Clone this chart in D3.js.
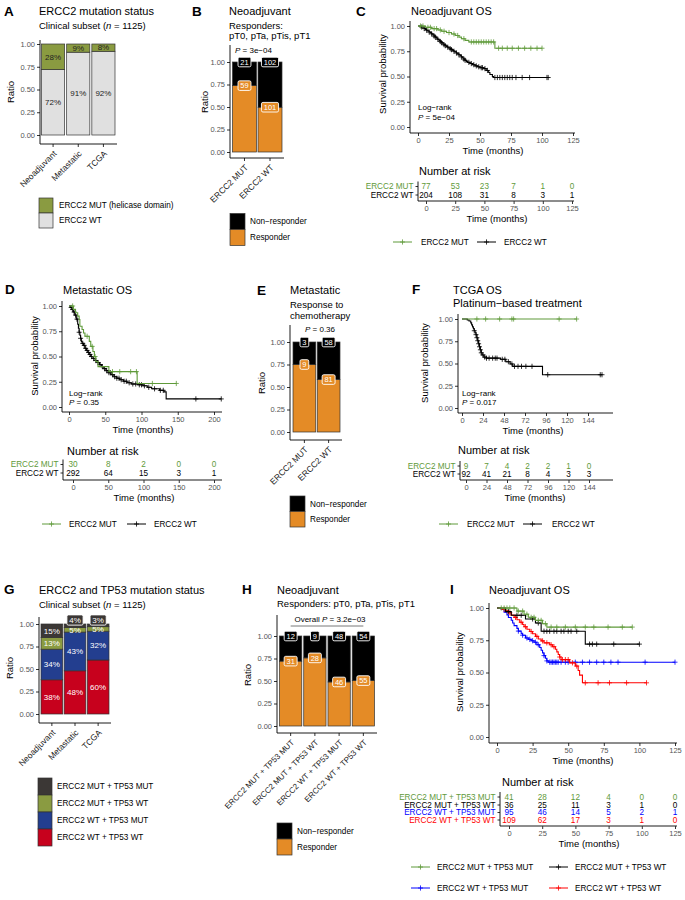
<!DOCTYPE html>
<html>
<head>
<meta charset="utf-8">
<script src="https://cdn.jsdelivr.net/npm/d3@7"></script>
<style>
body { margin: 0; background: #fff; }
</style>
</head>
<body>
<script>
// ---- data ----
var ratioTicks = [0, 0.25, 0.5, 0.75, 1];

// A
var aCats = ["Neoadjuvant", "Metastatic", "TCGA"];
var aMut = [0.28, 0.09, 0.08];
var aWt = [0.72, 0.91, 0.92];

// B
var bCats = ["ERCC2 MUT", "ERCC2 WT"];
var bResp = [59, 101];
var bNon = [21, 102];

// E
var eCats = ["ERCC2 MUT", "ERCC2 WT"];
var eResp = [9, 81];
var eNon = [3, 58];

// G
var gCats = ["Neoadjuvant", "Metastatic", "TCGA"];
var gGroups = ["ERCC2 MUT + TP53 MUT", "ERCC2 MUT + TP53 WT", "ERCC2 WT + TP53 MUT", "ERCC2 WT + TP53 WT"];
var gMutMut = [0.15, 0.04, 0.03];
var gMutWt = [0.13, 0.05, 0.05];
var gWtMut = [0.34, 0.43, 0.32];
var gWtWt = [0.38, 0.48, 0.60];

// H
var hCats = ["ERCC2 MUT + TP53 MUT", "ERCC2 MUT + TP53 WT", "ERCC2 WT + TP53 MUT", "ERCC2 WT + TP53 WT"];
var hResp = [31, 28, 46, 55];
var hNon = [12, 9, 48, 54];

// C  neoadjuvant OS  [time, survival from that time]
var cTicks = [0, 25, 50, 75, 100, 125];
var cMutSteps = [[0,1],[6,0.987],[11,0.974],[16,0.961],[19,0.948],[23,0.935],[27,0.921],[30,0.906],[33,0.89],[35,0.874],[38,0.858],[41,0.842],[62,0.78]];
var cMutCensor = [2,4,8,10,13,15,18,21,25,29,32,37,43,45,47,49,51,53,55,57,59,61,65,68,72,76,81,86,91,96,100];
var cWtSteps = [[0,1],[2,0.995],[3,0.99],[4,0.98],[5,0.975],[6,0.965],[7,0.958],[8,0.95],[9,0.94],[10,0.932],[11,0.922],[12,0.912],[13,0.9],[14,0.89],[15,0.878],[16,0.868],[17,0.856],[18,0.846],[19,0.835],[20,0.825],[21,0.815],[22,0.805],[23,0.797],[24,0.79],[25,0.782],[26,0.774],[27,0.766],[28,0.758],[29,0.75],[30,0.742],[31,0.733],[32,0.724],[33,0.715],[34,0.705],[35,0.694],[36,0.683],[37,0.672],[38,0.66],[39,0.65],[40,0.64],[42,0.628],[44,0.617],[46,0.605],[48,0.596],[50,0.587],[53,0.578],[55,0.56],[57,0.54],[58,0.52],[60,0.5],[61,0.49]];
var cWtCensor = [3,5,7,9,11,13,14,16,18,19,21,22,24,26,27,29,31,33,35,37,38,41,43,45,47,49,51,52,54,56,62,64,66,68,70,72,74,76,79,84,90,104,105];
var cRiskMut = [77, 53, 23, 7, 1, 0];
var cRiskWt = [204, 108, 31, 8, 3, 1];

// D  metastatic OS
var dTicks = [0, 50, 100, 150, 200];
var dMutSteps = [[0,1],[6,0.967],[9,0.933],[12,0.9],[14,0.867],[15,0.8],[18,0.767],[20,0.733],[22,0.7],[28,0.65],[30,0.6],[33,0.55],[35,0.5],[37,0.45],[40,0.4],[55,0.35],[94,0.233]];
var dMutCensor = [5,25,32,36,60,70,85,93,115,148];
var dWtSteps = [[0,1],[2,0.985],[4,0.965],[6,0.94],[8,0.91],[10,0.87],[12,0.82],[13,0.78],[14,0.74],[15,0.71],[16,0.68],[17,0.65],[18,0.63],[20,0.61],[22,0.58],[24,0.56],[26,0.54],[28,0.52],[30,0.5],[33,0.48],[36,0.46],[39,0.44],[42,0.42],[45,0.4],[48,0.38],[51,0.36],[54,0.34],[58,0.32],[62,0.3],[66,0.285],[70,0.27],[75,0.255],[80,0.24],[86,0.228],[95,0.22],[102,0.21],[108,0.195],[114,0.18],[125,0.165],[131,0.15],[134,0.08]];
var dWtCensor = [3,5,7,9,11,14,16,19,21,23,25,27,29,31,34,37,40,43,46,49,52,55,57,60,63,66,69,72,76,79,83,88,92,97,100,104,110,118,126,130,175,210];
var dRiskMut = [30, 8, 2, 0, 0];
var dRiskWt = [292, 64, 15, 3, 1];

// F  TCGA OS
var fTicks = [0, 24, 48, 72, 96, 120, 144];
var fMutSteps = [[0,1]];
var fMutCensor = [17,27,43,57,59,111,131];
var fWtSteps = [[0,1],[6,0.989],[8,0.978],[10,0.956],[11,0.934],[12,0.912],[13,0.89],[14,0.868],[15,0.846],[16,0.824],[17,0.79],[18,0.756],[19,0.722],[20,0.688],[21,0.654],[22,0.62],[23,0.596],[25,0.572],[28,0.56],[44,0.547],[50,0.52],[55,0.495],[58,0.468],[92,0.374]];
var fWtCensor = [14,16,17,18,19,20,21,22,24,26,28,31,35,38,40,46,49,53,57,60,64,68,73,80,98,158,160];
var fRiskMut = [9, 7, 4, 2, 2, 1, 0];
var fRiskWt = [92, 41, 21, 8, 4, 3, 3];

// I  neoadjuvant OS by ERCC2/TP53
var iTicks = [0, 25, 50, 75, 100, 125];
var iMutMutSteps = [[0,1],[14,0.976],[19,0.952],[22,0.928],[27,0.904],[32,0.878],[35,0.852]];
var iMutMutCensor = [3,5,7,9,12,15,18,21,24,26,29,31,34,38,42,48,55,62,68,78,88,95];
var iMutWtSteps = [[0,1],[6,0.972],[10,0.944],[20,0.915],[27,0.884],[31,0.82],[62,0.72]];
var iMutWtCensor = [8,14,17,25,29,33,35,37,40,42,45,47,50,52,56,65,67,70,82,100];
var iWtMutSteps = [[0,1],[3,0.989],[5,0.968],[7,0.947],[8,0.926],[10,0.905],[11,0.884],[12,0.863],[14,0.842],[15,0.821],[17,0.8],[18,0.789],[20,0.768],[22,0.757],[24,0.746],[26,0.735],[28,0.715],[30,0.694],[31,0.673],[32,0.652],[33,0.631],[34,0.61],[35,0.59],[36,0.58]];
var iWtMutCensor = [15,18,21,23,25,27,29,33,35,37,38,39,40,41,42,43,45,48,50,55,60,65,70,75,80,85,104,125];
var iWtWtSteps = [[0,1],[3,0.99],[6,0.98],[8,0.963],[10,0.945],[12,0.927],[14,0.909],[16,0.89],[18,0.872],[19,0.855],[21,0.835],[23,0.818],[25,0.8],[27,0.78],[29,0.76],[31,0.745],[33,0.73],[37,0.715],[39,0.7],[41,0.68],[42,0.66],[43,0.64],[44,0.62],[45,0.6],[51,0.575],[55,0.55],[57,0.515],[58,0.48],[60,0.42]];
var iWtWtCensor = [5,9,13,17,20,24,28,32,35,38,40,44,46,48,50,53,56,62,71,79,91,105];
var iRiskMutMut = [41, 28, 12, 4, 0, 0];
var iRiskMutWt = [36, 25, 11, 3, 1, 0];
var iRiskWtMut = [95, 46, 14, 5, 2, 1];
var iRiskWtWt = [109, 62, 17, 3, 1, 0];

// ---- styles ----
var FONT = '"Liberation Sans", Arial, Helvetica, sans-serif';
var barGreen = "#8a9b41", barGrey = "#e0e0e0", orange = "#e48b26", dark = "#3b3735", navy = "#233e8f", red = "#c7011d";
var kmGreen = "#5f9a3a";

var svg = d3.select("body").append("svg").attr("width", 685).attr("height", 900);
svg.append("rect").attr("width", 685).attr("height", 900).attr("fill", "#fff");

function T(x, y, s, size, o) {
    o = o || {};
    var t = svg.append("text").attr("x", x).attr("y", y).attr("dy", "0.35em")
        .attr("font-family", FONT).attr("font-size", size)
        .attr("fill", o.fill || "#000").attr("text-anchor", o.anchor || "start").text(s);
    if (o.bold) t.attr("font-weight", "bold");
    if (o.rot) t.attr("transform", "rotate(-90," + x + "," + y + ")");
    return t;
}

function PT(x, y, pre, rest, size, anchor) {
    var t = T(x, y, "", size, {anchor: anchor});
    if (pre) t.append("tspan").text(pre);
    t.append("tspan").attr("font-style", "italic").text("P");
    t.append("tspan").text(rest);
    return t;
}

function styleAxis(g) {
    g.attr("font-family", FONT).attr("font-size", 7.5);
    g.select(".domain").remove();
    g.selectAll(".tick line").attr("stroke", "#333");
    g.selectAll(".tick text").attr("fill", "#555");
}

function axisLines(ax, top, ay, right) {
    svg.append("path").attr("d", "M" + ax + "," + top + "V" + ay + "H" + right)
        .attr("fill", "none").attr("stroke", "#000").attr("stroke-width", 0.9);
}

function boxLabel(x, y, s, fill, size) {
    var g = svg.append("g");
    var t = g.append("text").attr("x", x).attr("y", y).attr("dy", "0.35em").attr("text-anchor", "middle")
        .attr("font-family", FONT).attr("font-size", size).attr("fill", "#fff").text(s);
    var w = t.node().getComputedTextLength();
    g.insert("rect", "text").attr("x", x - w / 2 - 2.3).attr("y", y - size * 0.64)
        .attr("width", w + 4.6).attr("height", size * 1.28).attr("rx", 1.5)
        .attr("fill", fill).attr("stroke", "#fff").attr("stroke-width", 0.9);
}

function ratioFrame(o) {
    var y = d3.scaleLinear().domain([0, 1]).range([o.y0, o.y1]);
    var x = d3.scaleBand().domain(o.cats).range([o.bl, o.br]).paddingInner(o.pad).paddingOuter(0);
    var ya = svg.append("g").attr("transform", "translate(" + o.ax + ",0)")
        .call(d3.axisLeft(y).tickValues(ratioTicks).tickFormat(d3.format(".2f")).tickSize(3).tickPadding(2));
    styleAxis(ya);
    var xa = svg.append("g").attr("transform", "translate(0," + o.ay + ")")
        .call(d3.axisBottom(x).tickSize(3));
    styleAxis(xa);
    xa.selectAll(".tick text").attr("x", 0).attr("y", 0).attr("dy", "0.35em")
        .attr("transform", "translate(2,8) rotate(-45)").attr("text-anchor", "end")
        .attr("fill", "#222").attr("font-size", o.xfs || 8.5);
    axisLines(o.ax, o.top, o.ay, o.right);
    T(o.rx, o.ry, "Ratio", 9.5, {anchor: "middle", rot: true});
    return {x: x, y: y};
}

function drawStack(f, rows, keys, colors) {
    var series = d3.stack().keys(keys)(rows);
    series.forEach(function (s, k) {
        svg.append("g").selectAll("rect").data(s).enter().append("rect")
            .attr("x", function (d) { return f.x(d.data.cat); })
            .attr("width", f.x.bandwidth())
            .attr("y", function (d) { return f.y(d[1]); })
            .attr("height", function (d) { return f.y(d[0]) - f.y(d[1]); })
            .attr("fill", colors[k]).attr("stroke", "#333").attr("stroke-width", 0.7);
    });
    return series;
}

function countRows(cats, resp, non) {
    return cats.map(function (c, i) {
        var n = resp[i] + non[i];
        return {cat: c, resp: resp[i] / n, non: non[i] / n, nresp: resp[i], nnon: non[i]};
    });
}

function countLabels(f, series) {
    var bw = f.x.bandwidth();
    series.forEach(function (s) {
        s.forEach(function (d) {
            var cnt = s.key === "resp" ? d.data.nresp : d.data.nnon;
            boxLabel(f.x(d.data.cat) + bw / 2, f.y(d[1]), cnt, s.key === "resp" ? orange : "#000", 7.5);
        });
    });
}

function squareLegend(x, ys, h, w, colors, labels, tx, fs) {
    colors.forEach(function (c, i) {
        svg.append("rect").attr("x", x).attr("y", ys[i]).attr("width", w).attr("height", h)
            .attr("fill", c).attr("stroke", "#333").attr("stroke-width", 0.7);
        T(tx, ys[i] + h / 2, labels[i], fs);
    });
}

function plus(x, y, color) {
    svg.append("path").attr("d", "M" + (x - 2.5) + "," + y + "H" + (x + 2.5) + "M" + x + "," + (y - 2.6) + "V" + (y + 2.6))
        .attr("stroke", color).attr("stroke-width", 0.8).attr("fill", "none");
}

function kmFrame(o) {
    var x = d3.scaleLinear().domain([0, o.tmax]).range([o.x0, o.xT]);
    var y = d3.scaleLinear().domain([0, 1]).range([o.y0, o.y1]);
    var ya = svg.append("g").attr("transform", "translate(" + o.ax + ",0)")
        .call(d3.axisLeft(y).tickValues(ratioTicks).tickFormat(d3.format(".2f")).tickSize(3).tickPadding(2));
    styleAxis(ya);
    var xa = svg.append("g").attr("transform", "translate(0," + o.ay + ")")
        .call(d3.axisBottom(x).tickValues(o.ticks).tickFormat(d3.format("d")).tickSize(3).tickPadding(2));
    styleAxis(xa);
    axisLines(o.ax, o.y1 - 5, o.ay, o.right);
    T(o.spx, o.spy, "Survival probability", 9.5, {anchor: "middle", rot: true});
    T(o.tx, o.ay + 18, "Time (months)", 9.5, {anchor: "middle"});
    return {x: x, y: y};
}

function survAt(steps, t) {
    var i = d3.bisector(function (d) { return d[0]; }).right(steps, t) - 1;
    return steps[Math.max(i, 0)][1];
}

function kmCurve(f, steps, censor, color) {
    var last = steps[steps.length - 1];
    var tEnd = Math.max(last[0], d3.max(censor));
    var pts = steps.concat([[tEnd, last[1]]]);
    var line = d3.line().curve(d3.curveStepAfter)
        .x(function (d) { return f.x(d[0]); }).y(function (d) { return f.y(d[1]); });
    svg.append("path").attr("d", line(pts)).attr("fill", "none").attr("stroke", color).attr("stroke-width", 1.1);
    censor.forEach(function (c) { plus(f.x(c), f.y(survAt(steps, c)), color); });
}

function riskTable(o) {
    var x = d3.scaleLinear().domain([0, o.tmax]).range([o.x0, o.xT]);
    T(o.hx, o.hy, "Number at risk", 11);
    o.rows.forEach(function (r, i) {
        var yy = o.rowY[i];
        T(o.vx - 4.5, yy, r.label, o.fs, {anchor: "end", fill: r.color});
        svg.append("line").attr("x1", o.vx - 2.5).attr("x2", o.vx).attr("y1", yy).attr("y2", yy).attr("stroke", "#333");
        svg.append("g").selectAll("text").data(r.counts).enter().append("text")
            .attr("x", function (d, j) { return x(o.ticks[j]); }).attr("y", yy).attr("dy", "0.35em")
            .attr("text-anchor", "middle").attr("font-family", FONT).attr("font-size", o.fs)
            .attr("fill", r.color).text(function (d) { return d; });
    });
    axisLines(o.vx, o.rowY[0] - 5, o.ly, o.right);
    var xa = svg.append("g").attr("transform", "translate(0," + o.ly + ")")
        .call(d3.axisBottom(x).tickValues(o.ticks).tickFormat(d3.format("d")).tickSize(3).tickPadding(2));
    styleAxis(xa);
    T(o.tx, o.ly + 18, "Time (months)", 9.5, {anchor: "middle"});
}

function kmLegend(y, items) {
    items.forEach(function (it) {
        svg.append("line").attr("x1", it.x).attr("x2", it.x + 19).attr("y1", y).attr("y2", y)
            .attr("stroke", it.color).attr("stroke-width", 1);
        plus(it.x + 9.5, y, it.color);
        T(it.tx, y, it.label, 8.2);
    });
}

// ---- panel letters ----
[["A", 4, 11], ["B", 192, 11], ["C", 356, 11], ["D", 5, 289], ["E", 257, 290], ["F", 412, 289],
 ["G", 4, 589], ["H", 242, 589], ["I", 450, 589]].forEach(function (p) {
    T(p[1], p[2], p[0], 13.5, {bold: true});
});

// ================= A =================
T(39, 11, "ERCC2 mutation status", 11);
var subA = T(39, 26, "Clinical subset (", 9.5);
subA.append("tspan").attr("font-style", "italic").text("n");
subA.append("tspan").text(" = 1125)");

var fa = ratioFrame({cats: aCats, ax: 40, top: 40, y1: 44, y0: 135, ay: 144, right: 117,
    bl: 41.5, br: 115, pad: 0.08, rx: 11, ry: 92});
var aRows = aCats.map(function (c, i) { return {cat: c, wt: aWt[i], mut: aMut[i]}; });
var aSeries = drawStack(fa, aRows, ["wt", "mut"], [barGrey, barGreen]);
aSeries.forEach(function (s) {
    s.forEach(function (d) {
        T(fa.x(d.data.cat) + fa.x.bandwidth() / 2, fa.y((d[0] + d[1]) / 2),
          Math.round((d[1] - d[0]) * 100) + "%", 8, {anchor: "middle", fill: "#222"});
    });
});
squareLegend(39, [198, 213], 15, 14, [barGreen, barGrey], ["ERCC2 MUT (helicase domain)", "ERCC2 WT"], 59, 8.2);

// ================= B =================
T(229, 11, "Neoadjuvant", 11);
T(229, 26, "Responders:", 9.5);
T(229, 36, "pT0, pTa, pTis, pT1", 9.5);
PT(235, 50, "", " = 3e\u221204", 8, "start");
var fb = ratioFrame({cats: bCats, ax: 230, top: 45, y1: 62, y0: 152, ay: 158, right: 284,
    bl: 232.5, br: 282, pad: 0.06, rx: 205, ry: 102});
var bSeries = drawStack(fb, countRows(bCats, bResp, bNon), ["resp", "non"], [orange, "#000"]);
countLabels(fb, bSeries);
squareLegend(230, [213.5, 229.5], 16, 15, ["#000", orange], ["Non\u2212responder", "Responder"], 250, 8.2);

// ================= C =================
T(411, 11, "Neoadjuvant OS", 11);
var fc = kmFrame({ax: 410, y1: 26, y0: 127, ay: 133, x0: 418, xT: 573, tmax: 125, right: 575,
    ticks: cTicks, spx: 383, spy: 74, tx: 493});
kmCurve(fc, cWtSteps, cWtCensor, "#000");
kmCurve(fc, cMutSteps, cMutCensor, kmGreen);
T(418, 107, "Log\u2212rank", 8);
PT(418, 117, "", " = 5e\u221204", 8, "start");
riskTable({hx: 419, hy: 171, x0: 426, xT: 572, tmax: 125, ticks: cTicks, rowY: [186.5, 195], vx: 418,
    ly: 201, right: 574, tx: 497, fs: 8.2,
    rows: [{label: "ERCC2 MUT", color: kmGreen, counts: cRiskMut}, {label: "ERCC2 WT", color: "#000", counts: cRiskWt}]});
kmLegend(242, [{x: 393, tx: 421, label: "ERCC2 MUT", color: kmGreen}, {x: 477, tx: 504, label: "ERCC2 WT", color: "#000"}]);

// ================= D =================
T(63, 290, "Metastatic OS", 11);
var fd = kmFrame({ax: 62, y1: 306, y0: 407, ay: 412, x0: 69, xT: 214, tmax: 200, right: 222,
    ticks: dTicks, spx: 35, spy: 356, tx: 143});
kmCurve(fd, dWtSteps, dWtCensor, "#000");
kmCurve(fd, dMutSteps, dMutCensor, kmGreen);
T(69, 393, "Log\u2212rank", 8);
PT(69, 402, "", " = 0.35", 8, "start");
riskTable({hx: 67, hy: 451, x0: 73, xT: 214, tmax: 200, ticks: dTicks, rowY: [464.5, 473], vx: 63,
    ly: 480, right: 222, tx: 144, fs: 8.2,
    rows: [{label: "ERCC2 MUT", color: kmGreen, counts: dRiskMut}, {label: "ERCC2 WT", color: "#000", counts: dRiskWt}]});
kmLegend(524, [{x: 42, tx: 69, label: "ERCC2 MUT", color: kmGreen}, {x: 127, tx: 154, label: "ERCC2 WT", color: "#000"}]);

// ================= E =================
T(290, 290, "Metastatic", 11);
T(290, 305, "Response to", 9.5);
T(290, 315.5, "chemotherapy", 9.5);
PT(320, 329.5, "", " = 0.36", 8, "middle");
var fe = ratioFrame({cats: eCats, ax: 290, top: 325, y1: 342, y0: 432, ay: 440, right: 342,
    bl: 293, br: 340, pad: 0.06, rx: 262, ry: 383});
var eSeries = drawStack(fe, countRows(eCats, eResp, eNon), ["resp", "non"], [orange, "#000"]);
countLabels(fe, eSeries);
squareLegend(290, [496, 511.5], 15.5, 15, ["#000", orange], ["Non\u2212responder", "Responder"], 310, 8.2);

// ================= F =================
T(453, 290, "TCGA OS", 11);
T(453, 303, "Platinum\u2212based treatment", 11);
var ff = kmFrame({ax: 458, y1: 319, y0: 408, ay: 413, x0: 462, xT: 588, tmax: 144, right: 613,
    ticks: fTicks, spx: 425, spy: 363, tx: 533});
kmCurve(ff, fWtSteps, fWtCensor, "#000");
kmCurve(ff, fMutSteps, fMutCensor, kmGreen);
T(462, 393, "Log\u2212rank", 8);
PT(462, 402, "", " = 0.017", 8, "start");
riskTable({hx: 458, hy: 450, x0: 466, xT: 589, tmax: 144, ticks: fTicks, rowY: [466, 474], vx: 460,
    ly: 480, right: 613, tx: 535, fs: 8.2,
    rows: [{label: "ERCC2 MUT", color: kmGreen, counts: fRiskMut}, {label: "ERCC2 WT", color: "#000", counts: fRiskWt}]});
kmLegend(524, [{x: 439, tx: 467, label: "ERCC2 MUT", color: kmGreen}, {x: 523, tx: 552, label: "ERCC2 WT", color: "#000"}]);

// ================= G =================
T(39, 590, "ERCC2 and TP53 mutation status", 11);
var subG = T(39, 604.5, "Clinical subset (", 9.5);
subG.append("tspan").attr("font-style", "italic").text("n");
subG.append("tspan").text(" = 1125)");
var fg = ratioFrame({cats: gCats, ax: 39, top: 617, y1: 624, y0: 714, ay: 723, right: 111,
    bl: 41, br: 109, pad: 0.06, rx: 10, ry: 668});
var gRows = gCats.map(function (c, i) {
    return {cat: c, ww: gWtWt[i], wm: gWtMut[i], mw: gMutWt[i], mm: gMutMut[i]};
});
var gColors = [red, navy, barGreen, dark];
var gSeries = drawStack(fg, gRows, ["ww", "wm", "mw", "mm"], gColors);
gSeries.forEach(function (s, k) {
    s.forEach(function (d) {
        var v = d[1] - d[0], cx = fg.x(d.data.cat) + fg.x.bandwidth() / 2;
        var lab = Math.round(v * 100) + "%";
        if (v < 0.045) boxLabel(cx, fg.y(1) - 4, lab, gColors[k], 8);
        else T(cx, fg.y((d[0] + d[1]) / 2), lab, 8, {anchor: "middle", fill: "#fff"});
    });
});
squareLegend(38, [778, 795, 812, 829], 17, 14, [dark, barGreen, navy, red], gGroups, 57, 8.2);

// ================= H =================
T(277, 590, "Neoadjuvant", 11);
T(277, 604, "Responders: pT0, pTa, pTis, pT1", 9.5);
var fh = ratioFrame({cats: hCats, ax: 277, top: 615, y1: 636, y0: 726, ay: 733, right: 377,
    bl: 279.5, br: 374.5, pad: 0.08, rx: 248, ry: 675, xfs: 8});
var hSeries = drawStack(fh, countRows(hCats, hResp, hNon), ["resp", "non"], [orange, "#000"]);
countLabels(fh, hSeries);
var hbw = fh.x.bandwidth();
svg.append("line").attr("x1", fh.x(hCats[0]) + hbw / 2).attr("x2", fh.x(hCats[3]) + hbw / 2)
    .attr("y1", 626).attr("y2", 626).attr("stroke", "#555").attr("stroke-width", 0.8);
PT(330, 619.5, "Overall ", " = 3.2e\u221203", 8, "middle");
squareLegend(277, [823, 839], 16, 15, ["#000", orange], ["Non\u2212responder", "Responder"], 297, 8.2);

// ================= I =================
T(489, 590, "Neoadjuvant OS", 11);
var fi = kmFrame({ax: 489, y1: 608, y0: 737, ay: 743, x0: 497, xT: 675, tmax: 125, right: 677,
    ticks: iTicks, spx: 460, spy: 672, tx: 583});
kmCurve(fi, iWtMutSteps, iWtMutCensor, "#0000ff");
kmCurve(fi, iWtWtSteps, iWtWtCensor, "#ff0000");
kmCurve(fi, iMutWtSteps, iMutWtCensor, "#000");
kmCurve(fi, iMutMutSteps, iMutMutCensor, kmGreen);
riskTable({hx: 502, hy: 782, x0: 509, xT: 675, tmax: 125, ticks: iTicks, rowY: [797, 805, 812.5, 820], vx: 500,
    ly: 826, right: 677, tx: 589, fs: 8.2,
    rows: [{label: gGroups[0], color: kmGreen, counts: iRiskMutMut},
           {label: gGroups[1], color: "#000", counts: iRiskMutWt},
           {label: gGroups[2], color: "#0000ff", counts: iRiskWtMut},
           {label: gGroups[3], color: "#ff0000", counts: iRiskWtWt}]});
kmLegend(867, [{x: 411, tx: 437, label: gGroups[0], color: kmGreen}, {x: 549, tx: 575, label: gGroups[1], color: "#000"}]);
kmLegend(888, [{x: 411, tx: 437, label: gGroups[2], color: "#0000ff"}, {x: 549, tx: 575, label: gGroups[3], color: "#ff0000"}]);
</script>
</body>
</html>
